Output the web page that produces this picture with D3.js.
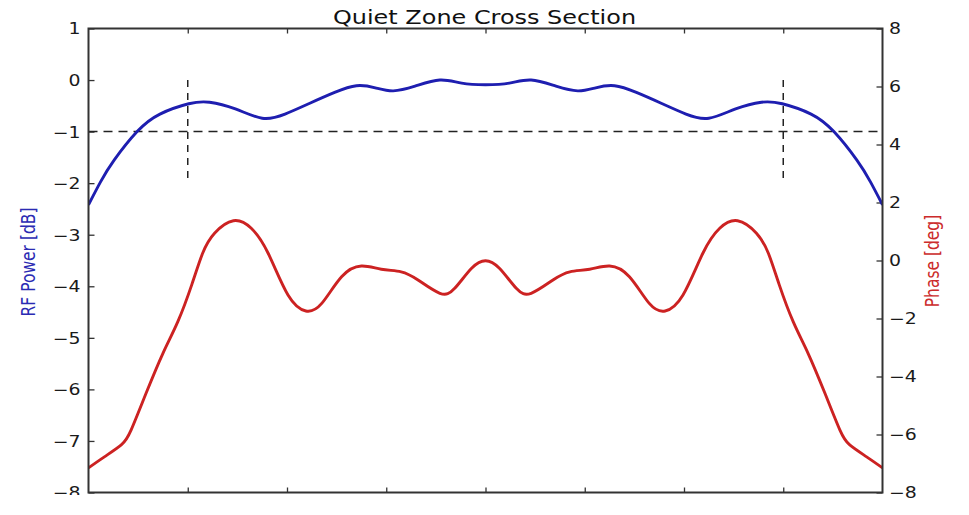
<!DOCTYPE html>
<html>
<head>
<meta charset="utf-8">
<script src="https://cdn.jsdelivr.net/npm/d3@7"></script>
<style>
html,body{margin:0;padding:0;background:#fff;}
svg{display:block;}
text{font-family:"DejaVu Sans",sans-serif;}
</style>
</head>
<body>
<svg id="chart" width="969" height="515"></svg>
<script>
// ---- data ----
const title = "Quiet Zone Cross Section";
const leftLabel = "RF Power [dB]";
const rightLabel = "Phase [deg]";

const xTicks = [-3, -2, -1, 0, 1, 2, 3];
const leftTicks = [1, 0, -1, -2, -3, -4, -5, -6, -7, -8];
const rightTicks = [8, 6, 4, 2, 0, -2, -4, -6, -8];

const powerX = [-4.0, -3.88, -3.74, -3.51, -3.28, -2.99, -2.78, -2.52, -2.25, -2.02, -1.77, -1.52, -1.30, -1.11, -0.93, -0.71, -0.46, -0.24, 0,
                0.24, 0.46, 0.71, 0.93, 1.11, 1.30, 1.52, 1.77, 2.02, 2.25, 2.52, 2.78, 2.99, 3.28, 3.51, 3.74, 3.88, 4.0];
const powerY = [-2.42, -1.98, -1.55, -1.0, -0.66, -0.46, -0.43, -0.56, -0.74, -0.66, -0.45, -0.24, -0.11, -0.15, -0.21, -0.12, 0.0, -0.06, -0.09,
                -0.06, 0.0, -0.12, -0.21, -0.15, -0.11, -0.24, -0.45, -0.66, -0.74, -0.56, -0.43, -0.46, -0.66, -1.0, -1.55, -1.98, -2.42];

const phaseX = [-4.0, -3.84, -3.67, -3.57, -3.42, -3.25, -3.10, -2.96, -2.85, -2.73, -2.54, -2.36, -2.19, -1.99, -1.81, -1.65, -1.45, -1.25, -1.05, -0.85, -0.68, -0.46, -0.31, -0.14, 0,
                0.14, 0.31, 0.46, 0.68, 0.85, 1.05, 1.25, 1.45, 1.65, 1.81, 1.99, 2.19, 2.36, 2.54, 2.73, 2.85, 2.96, 3.10, 3.25, 3.42, 3.57, 3.67, 3.84, 4.0];
const phaseY = [-7.15, -6.77, -6.36, -5.84, -4.58, -3.2, -2.11, -0.84, 0.25, 0.94, 1.37, 1.11, 0.25, -1.19, -1.74, -1.48, -0.56, -0.19, -0.30, -0.39, -0.67, -1.13, -0.96, -0.27, -0.01,
                -0.27, -0.96, -1.13, -0.67, -0.39, -0.30, -0.19, -0.56, -1.48, -1.74, -1.19, 0.25, 1.11, 1.37, 0.94, 0.25, -0.84, -2.11, -3.2, -4.58, -5.84, -6.36, -6.77, -7.15];

const thresholdDb = -1;
const markerX = [-3, 3];
const markerRange = [0, -2];

// ---- layout ----
const L = 88.5, R = 882.5, T = 28.5, B = 492.5;
const SX = 1.26; // horizontal text stretch of the reference
const svg = d3.select("#chart");

const x = d3.scaleLinear().domain([-4, 4]).range([L, R]);
const yL = d3.scaleLinear().domain([-8, 1]).range([B, T]);
const yR = d3.scaleLinear().domain([-8, 8]).range([B, T]);

const axisColor = "#333";
const tickFont = 15;

// axes
const gLeft = svg.append("g").attr("transform", `translate(${L},0)`)
  .call(d3.axisLeft(yL).tickValues(leftTicks).tickSizeInner(-6).tickSizeOuter(0).tickPadding(0));
gLeft.selectAll("text").attr("x", 0).attr("dy", "0.36em")
  .attr("transform", `translate(-8,0) scale(${SX},1)`);

const gRight = svg.append("g").attr("transform", `translate(${R},0)`)
  .call(d3.axisRight(yR).tickValues(rightTicks).tickSizeInner(-6).tickSizeOuter(0).tickPadding(0));
gRight.selectAll("text").attr("x", 0).attr("dy", "0.36em")
  .attr("transform", `translate(6.5,0) scale(${SX},1)`);

const gBottom = svg.append("g").attr("transform", `translate(0,${B})`)
  .call(d3.axisBottom(x).tickValues(xTicks).tickFormat("").tickSizeInner(-5).tickSizeOuter(0));
const gTop = svg.append("g").attr("transform", `translate(0,${T})`)
  .call(d3.axisTop(x).tickValues(xTicks).tickFormat("").tickSizeInner(-5).tickSizeOuter(0));

[gLeft, gRight, gBottom, gTop].forEach(g => {
  g.select(".domain").remove();
  g.selectAll(".tick line").attr("stroke", axisColor).attr("stroke-width", 1.3);
  g.selectAll(".tick text").attr("fill", "#1a1a1a").style("font-size", tickFont + "px")
    .style("font-family", "'DejaVu Sans', sans-serif");
});

// dashed guides
svg.append("line")
  .attr("x1", x(-4)).attr("x2", x(4))
  .attr("y1", yL(thresholdDb)).attr("y2", yL(thresholdDb))
  .attr("stroke", "#222").attr("stroke-width", 1.5).attr("stroke-dasharray", "9,6");
markerX.forEach(mx => {
  svg.append("line")
    .attr("x1", x(mx)).attr("x2", x(mx))
    .attr("y1", yL(markerRange[0])).attr("y2", yL(markerRange[1]))
    .attr("stroke", "#222").attr("stroke-width", 1.5).attr("stroke-dasharray", "7,6");
});

// curves
svg.append("clipPath").attr("id", "plotclip")
  .append("rect").attr("x", L).attr("y", T).attr("width", R - L).attr("height", B - T);

const powerLine = d3.line().x(d => x(d[0])).y(d => yL(d[1])).curve(d3.curveNatural);
const phaseLine = d3.line().x(d => x(d[0])).y(d => yR(d[1])).curve(d3.curveNatural);

svg.append("path")
  .datum(powerX.map((v, i) => [v, powerY[i]]))
  .attr("d", powerLine)
  .attr("fill", "none").attr("stroke", "#1e1eb0").attr("stroke-width", 2.9)
  .attr("clip-path", "url(#plotclip)");

svg.append("path")
  .datum(phaseX.map((v, i) => [v, phaseY[i]]))
  .attr("d", phaseLine)
  .attr("fill", "none").attr("stroke", "#cc2222").attr("stroke-width", 2.9)
  .attr("clip-path", "url(#plotclip)");

// frame
svg.append("rect")
  .attr("x", L).attr("y", T).attr("width", R - L).attr("height", B - T)
  .attr("fill", "none").attr("stroke", axisColor).attr("stroke-width", 2);

// cropped bottom-left corner as in reference
svg.append("rect").attr("x", 0).attr("y", 495).attr("width", L - 2).attr("height", 20).attr("fill", "#fff");

// title
svg.append("text")
  .attr("transform", `translate(484.5,24) scale(${SX},1)`)
  .attr("text-anchor", "middle")
  .style("font-size", "19px").attr("fill", "#111")
  .text(title);

// axis labels
svg.append("text")
  .attr("transform", `translate(35,262) scale(${SX},1) rotate(-90)`)
  .attr("text-anchor", "middle")
  .style("font-size", "15.5px").attr("fill", "#2b2bb3")
  .text(leftLabel);

svg.append("text")
  .attr("transform", `translate(938.5,261) scale(${SX},1) rotate(-90)`)
  .attr("text-anchor", "middle")
  .style("font-size", "15.5px").attr("fill", "#cc2b2b")
  .text(rightLabel);
</script>
</body>
</html>
